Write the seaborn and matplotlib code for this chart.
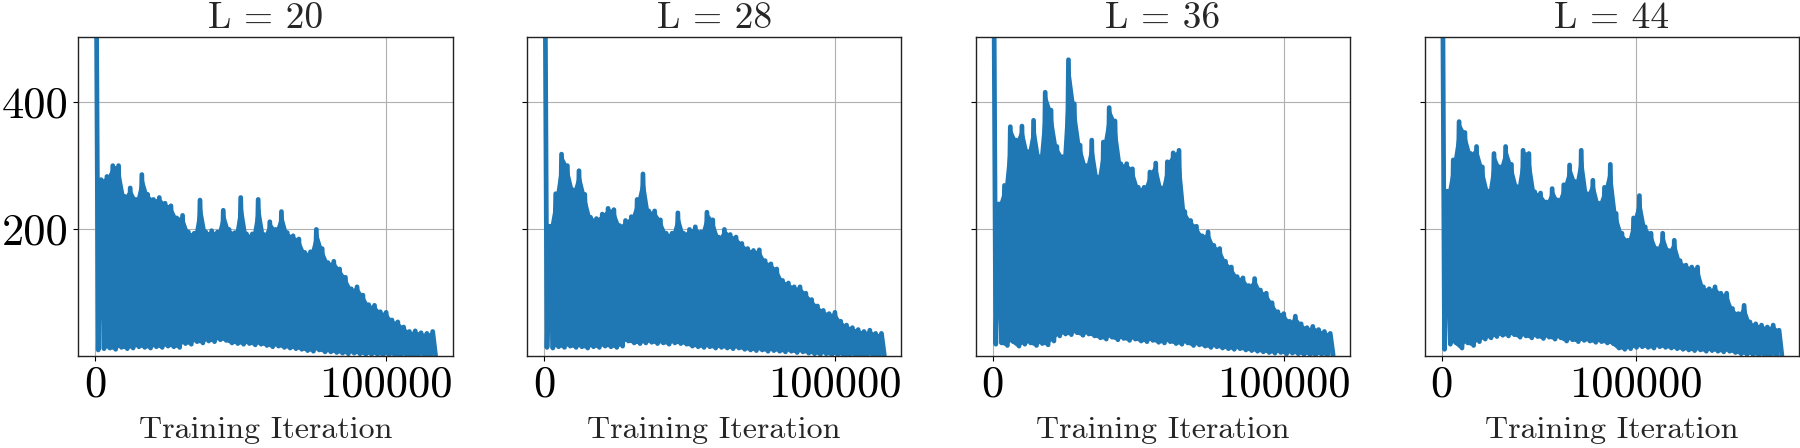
import numpy as np
import matplotlib
matplotlib.use('Agg')
import matplotlib.pyplot as plt
import seaborn as sns

# number of layers per panel and how many iterations lie between logged values
layers = [20, 28, 36, 44]
log_every = [1000, 1000, 1000, 1500]

# loss: alternating peak / trough of the noisy curve
peaks_20 = [900, 278, 283, 300, 300, 252, 265, 247, 286, 255,
            247, 250, 241, 237, 218, 222, 196, 194, 246, 196,
            198, 196, 230, 200, 195, 250, 193, 193, 247, 192,
            212, 200, 228, 195, 190, 185, 164, 165, 200, 170,
            148, 150, 138, 125, 107, 110, 97, 82, 81, 71,
            70, 58, 55, 47, 40, 41, 38, 37, 40]
troughs_20 = [11, 13, 14, 12, 15, 13, 14, 16, 15, 14, 16, 15, 17, 16, 15,
              21, 20, 24, 22, 25, 24, 27, 26,
              22, 21, 20, 21, 19, 20, 18,
              16, 17, 15, 14, 13, 12,
              10, 9, 11, 8, 8, 7,
              6, 5, 6, 5, 4, 4,
              4, 3, 4, 3, 2, 3, 2, 2, 3, 2, 2]

peaks_28 = [900, 205, 256, 318, 300, 262, 292, 255, 219, 217,
            224, 233, 231, 206, 214, 220, 247, 287, 229, 229,
            215, 194, 194, 226, 194, 200, 204, 196, 227, 215,
            188, 200, 192, 188, 178, 170, 167, 168, 151, 146,
            138, 120, 116, 110, 110, 100, 90, 80, 73, 68,
            70, 56, 50, 46, 43, 40, 42, 37, 37]
troughs_28 = [15, 14, 16, 15, 17, 15, 16, 14, 16, 15, 17, 16, 15, 17,
              25, 22, 21,
              22, 23, 21, 22, 20, 22, 21, 20,
              17, 16, 15, 16, 14, 15, 14, 13, 14, 12,
              11, 10, 11, 9, 10, 9, 8, 9, 7, 8, 6,
              5, 4, 5, 3, 4, 3, 2, 3, 2, 2, 3, 2, 2]

peaks_36 = [900, 240, 269, 361, 340, 362, 322, 371, 314, 415,
            387, 330, 314, 466, 397, 332, 300, 340, 282, 337,
            391, 370, 303, 303, 295, 266, 266, 290, 304, 265,
            306, 320, 324, 228, 214, 205, 190, 196, 175, 170,
            150, 141, 126, 124, 112, 123, 105, 100, 85, 71,
            68, 56, 64, 52, 46, 48, 43, 40, 37]
troughs_36 = [20, 22, 18, 24, 17, 20, 22, 18, 21, 19, 25,
              33, 36, 35, 38, 34, 36, 33,
              30, 28, 31, 27, 29, 26, 28, 25, 24, 26, 23,
              22, 24, 21, 20, 22, 18, 19, 17,
              15, 16, 14, 13, 12, 13, 11, 10, 9,
              8, 7, 6, 7, 5, 6, 5, 4, 4, 3, 4, 3, 3]

peaks_44 = [900, 260, 309, 369, 352, 319, 330, 298, 260, 319,
            298, 330, 302, 267, 324, 319, 259, 257, 243, 264,
            246, 270, 301, 275, 324, 256, 277, 241, 266, 302,
            225, 194, 183, 218, 253, 204, 194, 170, 194, 167,
            183, 151, 144, 141, 141, 110, 107, 110, 100, 100,
            76, 68, 81, 55, 52, 50, 47, 50, 42]
troughs_44 = [12, 20, 22, 14, 22, 18, 24,
              28, 30, 32, 34, 33, 35, 31, 33, 30, 32, 29, 31, 28, 30,
              25, 27, 24, 26, 25, 23, 24, 22, 21,
              14, 12, 13, 15,
              16, 15, 14, 16, 15, 14, 13, 12,
              11, 10, 11, 9, 10, 9, 8, 9, 7,
              5, 4, 4, 3, 3, 2, 3, 2]

peaks = [peaks_20, peaks_28, peaks_36, peaks_44]
troughs = [troughs_20, troughs_28, troughs_36, troughs_44]

blue = '#1f77b4'

sns.set_theme(style='ticks', rc={'axes.edgecolor': '#222222', 'axes.linewidth': 1.0,
                                 'xtick.major.size': 3.5, 'ytick.major.size': 3.5,
                                 'xtick.major.width': 0.8, 'ytick.major.width': 0.8,
                                 'xtick.color': 'black', 'ytick.color': 'black'})
plt.rcParams['font.family'] = ['cmr10', 'DejaVu Serif']
plt.rcParams['axes.formatter.use_mathtext'] = True

fig, axes = plt.subplots(1, 4, figsize=(18, 4.48), dpi=100, sharey=True)
fig.subplots_adjust(left=0.0435, right=0.9994, bottom=0.206, top=0.918, wspace=0.199)

for ax, L, step, hi, lo in zip(axes, layers, log_every, peaks, troughs):
    loss = np.column_stack([hi, lo]).ravel()
    it = np.arange(len(loss)) * step
    # the noise is denser than one pixel, so the band between peaks and troughs
    # is solid; the first (huge) value stays a single spike
    ax.fill_between(it[2::2], lo[1:], hi[1:], color=blue, lw=0)
    sns.lineplot(x=it, y=loss, ax=ax, color=blue, lw=3.4, sort=False,
                 estimator=None, solid_joinstyle='round', solid_capstyle='round')
    ax.set_title(f'L = {L}', fontsize=27)
    ax.set_xlabel('Training Iteration', fontsize=23, labelpad=8)
    ax.set_ylabel('')
    ax.grid(True, color='#b0b0b0', lw=0.8)
    ax.set_xticks([0, 100000], labels=['0', '100000'])
    ax.tick_params(labelsize=32)

axes[0].set_ylim(2, 502)
axes[0].set_yticks([200, 400], labels=['200', '400'])

fig.savefig('out.png', dpi=100)
